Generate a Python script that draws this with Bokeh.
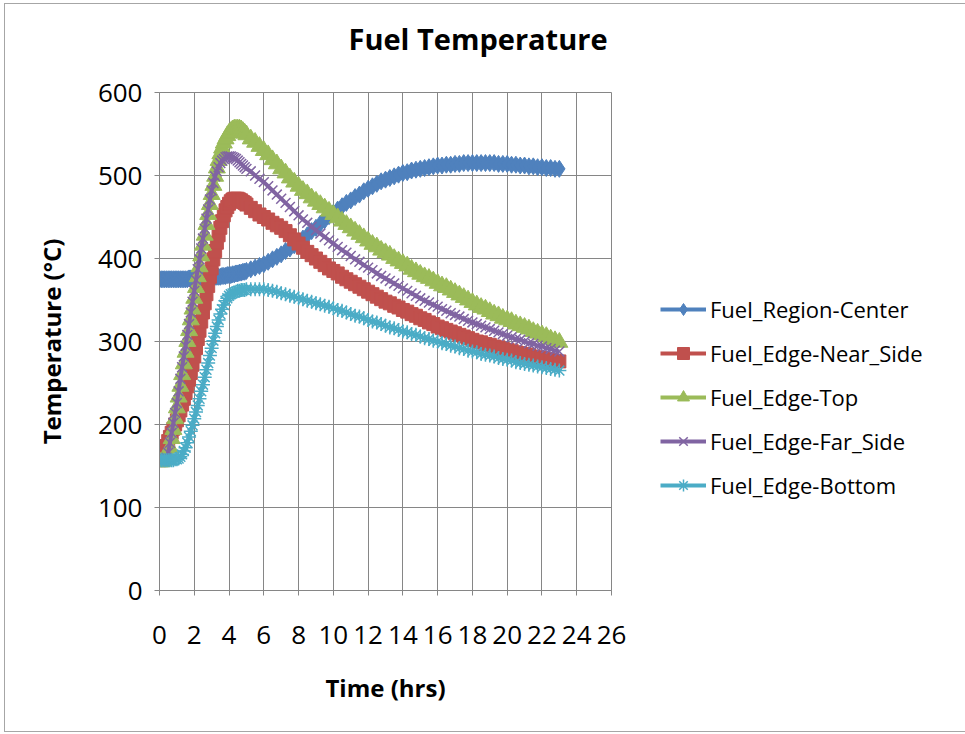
import numpy as np
from bokeh.plotting import figure
from bokeh.models import Range1d, FixedTicker, Legend, LegendItem, Title
from bokeh.embed import file_html
from bokeh.resources import INLINE

# ---------------- data ----------------
time_hrs = [
    0.0, 0.1, 0.2, 0.3, 0.4, 0.5, 0.6, 0.7, 0.8, 0.9,
    1.0, 1.1, 1.2, 1.3, 1.4, 1.5, 1.6, 1.7, 1.8, 1.9,
    2.0, 2.1, 2.2, 2.3, 2.4, 2.5, 2.6, 2.7, 2.8, 2.9,
    3.0, 3.1, 3.2, 3.3, 3.4, 3.5, 3.6, 3.7, 3.8, 3.9,
    4.0, 4.1, 4.2, 4.3, 4.4, 4.5, 4.6, 4.7, 4.8, 4.9, 5.0,
    5.25, 5.5, 5.75, 6.0, 6.25, 6.5, 6.75, 7.0, 7.25, 7.5, 7.75, 8.0,
    8.25, 8.5, 8.75, 9.0, 9.25, 9.5, 9.75, 10.0, 10.25, 10.5, 10.75, 11.0,
    11.25, 11.5, 11.75, 12.0, 12.25, 12.5, 12.75, 13.0, 13.25, 13.5, 13.75, 14.0,
    14.25, 14.5, 14.75, 15.0, 15.25, 15.5, 15.75, 16.0, 16.25, 16.5, 16.75, 17.0,
    17.25, 17.5, 17.75, 18.0, 18.25, 18.5, 18.75, 19.0, 19.25, 19.5, 19.75, 20.0,
    20.25, 20.5, 20.75, 21.0, 21.25, 21.5, 21.75, 22.0, 22.25, 22.5, 22.75, 23.0,
]

fuel_region_center = [
    375, 375, 375, 375, 375, 375, 375, 375, 375, 375,
    375, 375, 375, 375, 375, 375, 375, 376, 376, 376,
    376, 376, 376, 376, 376, 376, 377, 377, 377, 377,
    377, 377, 378, 378, 378, 378, 379, 379, 379, 380,
    380, 380, 381, 381, 382, 382, 383, 383, 384, 384, 385,
    387, 389, 391, 393, 396, 399, 402, 405, 409, 412, 416, 420,
    424, 428, 433, 437, 442, 446, 451, 455, 459, 463, 467, 470,
    474, 477, 481, 484, 487, 490, 493, 495, 497, 499, 501, 503,
    504, 506, 507, 508, 509, 510, 511, 512, 512, 513, 513, 514,
    514, 515, 515, 515, 515, 515, 515, 515, 515, 514, 514, 514,
    513, 513, 512, 512, 511, 511, 510, 510, 509, 509, 508, 508,
]

fuel_edge_near_side = [
    157, 159, 163, 168, 174, 180, 185, 190, 195, 200,
    205, 211, 217, 224, 231, 238, 246, 254, 262, 272,
    282, 292, 303, 313, 324, 335, 346, 357, 367, 378,
    388, 399, 409, 419, 428, 437, 445, 452, 458, 462,
    466, 469, 471, 472, 472, 472, 471, 470, 468, 467, 465,
    461, 457, 453, 450, 447, 443, 440, 437, 433, 428, 423, 418,
    413, 408, 404, 400, 396, 392, 388, 385, 382, 378, 375, 372,
    369, 366, 363, 360, 357, 354, 351, 348, 346, 343, 341, 338,
    336, 333, 331, 328, 326, 323, 321, 318, 316, 314, 312, 310,
    308, 306, 304, 302, 300, 299, 297, 296, 294, 293, 291, 290,
    289, 287, 286, 285, 284, 282, 281, 280, 279, 278, 277, 276,
]

fuel_edge_top = [
    155, 155, 156, 158, 160, 163, 172, 183, 194, 207,
    220, 233, 246, 260, 273, 287, 300, 313, 326, 339,
    352, 365, 378, 390, 403, 416, 428, 441, 453, 465,
    477, 488, 499, 509, 518, 526, 533, 539, 544, 548,
    551, 553, 555, 556, 556, 556, 556, 555, 553, 551, 549,
    544, 540, 535, 530, 525, 519, 514, 508, 503, 497, 492, 487,
    482, 478, 473, 469, 465, 461, 457, 453, 449, 445, 441, 437,
    433, 429, 425, 421, 417, 414, 410, 407, 404, 400, 397, 394,
    391, 387, 384, 381, 378, 376, 373, 370, 367, 365, 362, 359,
    356, 353, 350, 347, 344, 341, 339, 336, 333, 331, 328, 326,
    324, 321, 319, 317, 315, 312, 310, 308, 306, 303, 301, 299,
]

fuel_edge_far_side = [
    157, 157, 157, 158, 160, 166, 178, 190, 202, 214,
    226, 240, 255, 269, 282, 295, 308, 321, 335, 348,
    361, 374, 387, 399, 412, 424, 436, 448, 459, 471,
    482, 491, 499, 505, 510, 515, 518, 520, 522, 523,
    523, 523, 522, 521, 520, 518, 516, 514, 512, 510, 508,
    505, 500, 496, 492, 487, 482, 477, 472, 467, 462, 457, 452,
    447, 443, 438, 434, 430, 426, 422, 418, 414, 410, 407, 403,
    399, 396, 392, 389, 386, 382, 379, 376, 373, 370, 367, 364,
    361, 358, 355, 352, 349, 347, 344, 342, 339, 337, 334, 332,
    330, 327, 325, 323, 321, 319, 317, 315, 313, 311, 309, 307,
    305, 303, 302, 300, 298, 297, 295, 294, 292, 291, 289, 288,
]

fuel_edge_bottom = [
    157, 157, 157, 157, 157, 157, 157, 157, 157, 158,
    158, 159, 161, 164, 168, 172, 178, 185, 192, 199,
    207, 215, 223, 231, 240, 248, 257, 266, 274, 283,
    292, 301, 310, 318, 326, 333, 339, 344, 349, 352,
    355, 357, 358, 359, 360, 361, 361, 362, 362, 362, 363,
    363, 363, 363, 363, 362, 361, 360, 358, 357, 355, 354, 352,
    351, 349, 348, 346, 345, 343, 342, 340, 338, 337, 335, 333,
    331, 330, 328, 326, 324, 323, 321, 319, 317, 316, 314, 312,
    311, 309, 308, 306, 304, 303, 301, 300, 298, 297, 295, 294,
    292, 291, 289, 288, 287, 285, 284, 283, 282, 280, 279, 278,
    277, 275, 274, 273, 272, 271, 270, 269, 268, 267, 266, 265,
]

series_names = ["Fuel_Region-Center", "Fuel_Edge-Near_Side", "Fuel_Edge-Top",
                "Fuel_Edge-Far_Side", "Fuel_Edge-Bottom"]
series_values = [fuel_region_center, fuel_edge_near_side, fuel_edge_top,
                 fuel_edge_far_side, fuel_edge_bottom]

x_ticks = [0, 2, 4, 6, 8, 10, 12, 14, 16, 18, 20, 22, 24, 26]
y_ticks = [0, 100, 200, 300, 400, 500, 600]

# ---------------- styling ----------------
FONT = "Open Sans"
GRID = "#868686"
colors = ["#4F81BD", "#C0504D", "#9BBB59", "#8064A2", "#4BACC6"]
markers = ["diamond", "square", "triangle", "x", "asterisk"]
sizes = [17, 13, 17, 14, 14]
mlw = [1, 1, 1, 1.5, 1.5]

p = figure(frame_width=452, frame_height=498, output_backend="svg",
           toolbar_location=None,
           x_range=Range1d(0, 26), y_range=Range1d(0, 600),
           title_location=None,
           min_border_left=154, min_border_right=0,
           min_border_top=88, min_border_bottom=141)

p.margin = (4, 0, 0, 5)
p.styles = {"outline": "1px solid #a6a6a6", "outline-offset": "0px"}

p.outline_line_color = GRID
p.outline_line_width = 1
p.background_fill_color = "white"
p.border_fill_color = "white"

for ax in (p.xaxis, p.yaxis):
    ax.axis_line_color = GRID
    ax.major_tick_line_color = GRID
    ax.major_tick_out = 5
    ax.major_tick_in = 0
    ax.minor_tick_line_color = None
    ax.major_label_text_font = FONT
    ax.major_label_text_font_size = "26px"
    ax.major_label_text_color = "black"
    ax.axis_label_text_font = FONT
    ax.axis_label_text_font_style = "bold"
    ax.axis_label_text_font_size = "24px"
    ax.axis_label_text_color = "black"

p.xaxis.ticker = FixedTicker(ticks=x_ticks)
p.yaxis.ticker = FixedTicker(ticks=y_ticks)
p.xaxis.axis_label = "Time (hrs)"
p.yaxis.axis_label = "Temperature (°C)"
p.xaxis.major_label_standoff = 30
p.xaxis.axis_label_standoff = 24
p.yaxis.major_label_standoff = 12
p.yaxis.axis_label_standoff = 27

p.xgrid.ticker = FixedTicker(ticks=x_ticks)
p.ygrid.ticker = FixedTicker(ticks=y_ticks)
for g in (p.xgrid, p.ygrid):
    g.grid_line_color = GRID
    g.grid_line_width = 1

items = []
for name, vals, c, m, s, lw in zip(series_names, series_values, colors,
                                   markers, sizes, mlw):
    lr = p.line(time_hrs, vals, line_color=c, line_width=4)
    sr = p.scatter(time_hrs, vals, marker=m, size=s,
                   fill_color=c, line_color=c, line_width=lw)
    items.append(LegendItem(label=name, renderers=[lr, sr]))

legend = Legend(items=items, location=(49, 90), orientation="vertical",
                padding=0, margin=0, spacing=14, glyph_width=46,
                glyph_height=30, label_height=30, label_standoff=4,
                label_text_font=FONT, label_text_font_size="22px",
                label_text_color="black", border_line_color=None,
                background_fill_alpha=0)
p.add_layout(legend, "right")

# spacer title (closest to the frame) then the real title above it
spacer = Title(text=" ", text_font=FONT, text_font_size="24px", standoff=0)
p.add_layout(spacer, "above")
main_title = Title(text="Fuel Temperature", text_font=FONT,
                   text_font_style="bold", text_font_size="29px",
                   align="left", offset=189, standoff=0,
                   vertical_align="bottom", text_color="black")
p.add_layout(main_title, "above")

open("out.html", "w").write(file_html(p, INLINE))
